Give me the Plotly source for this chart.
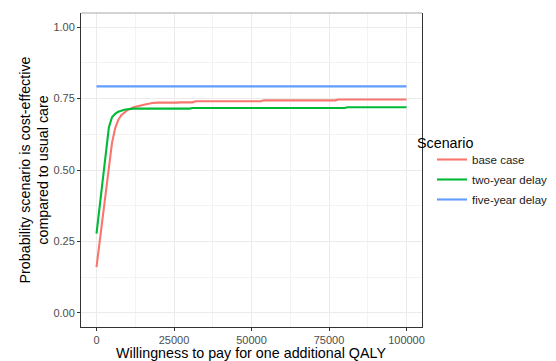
import plotly.graph_objects as go

# ---- data ----
wtp_base = [0, 1000, 2000, 3000, 4000, 5000, 6000, 7000, 8000, 9000, 10000,
            12000, 14000, 16000, 18000, 20000, 26000, 27000, 31000, 32000,
            53000, 54000, 77000, 78000, 100000]
p_base = [0.160, 0.250, 0.340, 0.435, 0.520, 0.595, 0.645, 0.675, 0.692, 0.702, 0.710,
          0.720, 0.726, 0.730, 0.735, 0.736, 0.736, 0.737, 0.737, 0.741,
          0.741, 0.744, 0.744, 0.747, 0.747]

wtp_two = [0, 1000, 2000, 3000, 4000, 5000, 6000, 7000, 8000, 9000, 10000,
           12000, 30000, 31000, 80000, 81000, 100000]
p_two = [0.277, 0.376, 0.475, 0.570, 0.650, 0.685, 0.697, 0.704, 0.708, 0.711, 0.713,
         0.715, 0.715, 0.717, 0.717, 0.720, 0.720]

wtp_five = [0, 100000]
p_five = [0.793, 0.793]

scenario_names = ["base case", "two-year delay", "five-year delay"]
scenario_colors = ["#F8766D", "#00BA38", "#619CFF"]

x_ticks = [0, 25000, 50000, 75000, 100000]
x_tick_labels = ["0", "25000", "50000", "75000", "100000"]
y_ticks = [0, 0.25, 0.5, 0.75, 1.0]
y_tick_labels = ["0.00", "0.25", "0.50", "0.75", "1.00"]

x_title = "Willingness to pay for one additional QALY"
y_title = "Probability scenario is cost-effective<br>compared to usual care"
legend_title = "Scenario"

# ---- figure ----
FONT = "Liberation Sans, Arial, sans-serif"
fig = go.Figure()
series = [(wtp_base, p_base), (wtp_two, p_two), (wtp_five, p_five)]
for (xs, ys), name, col in zip(series, scenario_names, scenario_colors):
    fig.add_trace(go.Scatter(x=xs, y=ys, mode="lines", name=name,
                             legendgroup=name,
                             line=dict(color=col, width=2.1)))

L, R, T, B = 81, 134, 13, 34
pw = 556 - L - R
ph = 361 - T - B
fig.update_layout(
    width=556, height=361,
    margin=dict(l=L, r=R, t=T, b=B, pad=0, autoexpand=False),
    paper_bgcolor="white", plot_bgcolor="white",
    font=dict(family=FONT),
    showlegend=True,
    legend=dict(x=1.0 + 10 / pw, xanchor="left", y=(327 - 145) / ph, yanchor="top",
                font=dict(size=11.5, color="#1a1a1a", family=FONT),
                tracegroupgap=1, bgcolor="rgba(0,0,0,0)"),
)
fig.update_xaxes(
    range=[-5000, 105000], tickmode="array", tickvals=x_ticks, ticktext=x_tick_labels,
    showgrid=True, gridcolor="#ebebeb", gridwidth=1, zeroline=False,
    ticks="outside", ticklen=3, tickcolor="#333333", tickwidth=1,
    tickfont=dict(size=11, color="#4d4d4d", family=FONT),
    showline=True, linecolor="#333333", linewidth=1, mirror=False, automargin=False,
    minor=dict(tickmode="array", tickvals=[12500, 37500, 62500, 87500],
               showgrid=True, gridcolor="#f3f3f3", gridwidth=1, ticks=""),
)
fig.update_yaxes(
    range=[-0.05, 1.05], tickmode="array", tickvals=y_ticks, ticktext=y_tick_labels,
    showgrid=True, gridcolor="#ebebeb", gridwidth=1, zeroline=False,
    ticks="outside", ticklen=3, tickcolor="#333333", tickwidth=1,
    tickfont=dict(size=11, color="#4d4d4d", family=FONT),
    showline=True, linecolor="#333333", linewidth=1, mirror=True, automargin=False,
    minor=dict(tickmode="array", tickvals=[0.125, 0.375, 0.625, 0.875],
               showgrid=True, gridcolor="#f3f3f3", gridwidth=1, ticks=""),
)
# top panel border (lighter, as in reference)
fig.add_shape(type="line", xref="paper", yref="paper", x0=0, x1=1, y0=1, y1=1,
              line=dict(color="#a8a8a8", width=1))

fig.add_annotation(text=x_title, xref="paper", yref="paper",
                   x=(251 - L) / pw, y=(327 - 353) / ph, xanchor="center", yanchor="middle",
                   showarrow=False, font=dict(size=14.3, color="black", family=FONT))
fig.add_annotation(text=y_title, xref="paper", yref="paper", textangle=-90,
                   x=(33.5 - L) / pw, y=0.5, xanchor="center", yanchor="middle",
                   showarrow=False, font=dict(size=14.3, color="black", family=FONT))
fig.add_annotation(text=legend_title, xref="paper", yref="paper",
                   x=(415 - L) / pw, y=(327 - 143) / ph, xanchor="left", yanchor="middle",
                   showarrow=False, font=dict(size=14.3, color="black", family=FONT))

fig.write_html("out.html")
